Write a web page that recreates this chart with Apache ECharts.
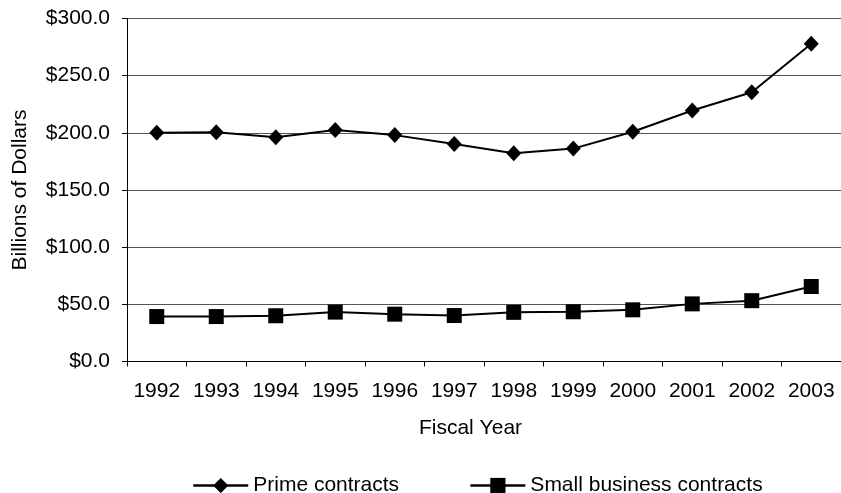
<!DOCTYPE html>
<html>
<head>
<meta charset="utf-8">
<script src="https://cdn.jsdelivr.net/npm/echarts@6/dist/echarts.min.js"></script>
<style>html,body{margin:0;padding:0;background:#fff}#c{width:841px;height:493px}</style>
</head>
<body>
<div id="c"></div>
<script>
const years = ['1992','1993','1994','1995','1996','1997','1998','1999','2000','2001','2002','2003'];
const primeContracts = [200.0, 200.6, 196.2, 202.5, 198.0, 190.3, 182.2, 186.2, 201.0, 219.5, 235.5, 278.0];
const smallBusinessContracts = [39.3, 39.3, 40.0, 43.2, 41.4, 40.2, 43.0, 43.5, 45.2, 50.4, 53.2, 65.6];
const yTicks = {min: 0, max: 300, interval: 50};

const font = '"Liberation Sans", Arial, sans-serif';
const fs = 21;
const chart = echarts.init(document.getElementById('c'), null, {renderer: 'canvas'});
chart.setOption({
  animation: false,
  backgroundColor: '#fff',
  grid: {left: 127, right: -3, top: 18.5, bottom: 131.5, containLabel: false},
  xAxis: {
    type: 'category',
    data: years,
    boundaryGap: true,
    name: 'Fiscal Year',
    nameLocation: 'middle',
    nameGap: 56,
    nameTextStyle: {fontFamily: font, fontSize: fs, color: '#000', padding: [0, 27, 0, 0]},
    axisLine: {lineStyle: {color: '#000', width: 1}},
    axisTick: {show: true, inside: false, length: 5, alignWithLabel: false, lineStyle: {color: '#000'}},
    axisLabel: {fontFamily: font, fontSize: fs, color: '#000', margin: 19, interval: 0},
    splitLine: {show: false}
  },
  yAxis: {
    type: 'value',
    min: yTicks.min, max: yTicks.max, interval: yTicks.interval,
    name: 'Billions of Dollars',
    nameLocation: 'middle',
    nameGap: 96,
    nameRotate: 90,
    nameTextStyle: {fontFamily: font, fontSize: fs, color: '#000'},
    axisLine: {show: true, lineStyle: {color: '#000', width: 1}},
    axisTick: {show: true, inside: false, length: 5, lineStyle: {color: '#000'}},
    axisLabel: {fontFamily: font, fontSize: fs, color: '#000', margin: 17,
      formatter: v => '$' + v.toFixed(1)},
    splitLine: {show: true, lineStyle: {color: '#555', width: 1}}
  },
  legend: {
    left: 187, top: 470,
    itemWidth: 55, itemHeight: 19, itemGap: 70,
    lineStyle: {width: 2.5},
    textStyle: {fontFamily: font, fontSize: fs, color: '#000'},
    data: ['Prime contracts', 'Small business contracts']
  },
  series: [
    {
      name: 'Prime contracts', type: 'line', data: primeContracts,
      symbol: 'diamond', symbolSize: [15, 16],
      lineStyle: {color: '#000', width: 2},
      itemStyle: {color: '#000'}
    },
    {
      name: 'Small business contracts', type: 'line', data: smallBusinessContracts,
      symbol: 'rect', symbolSize: 15,
      lineStyle: {color: '#000', width: 2},
      itemStyle: {color: '#000'}
    }
  ]
});
</script>
</body>
</html>
